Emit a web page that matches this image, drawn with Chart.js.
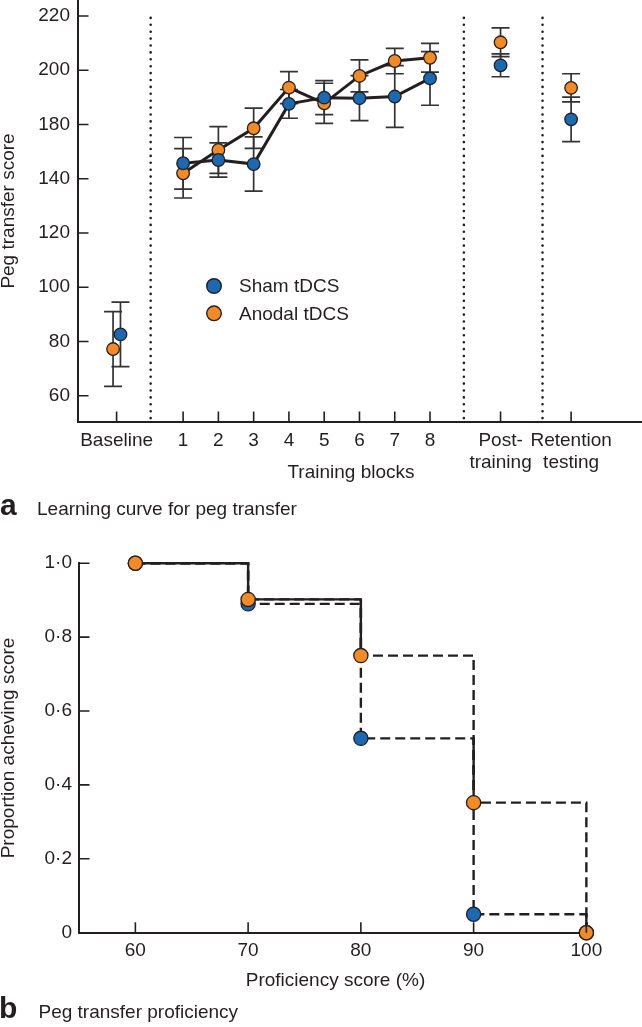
<!DOCTYPE html>
<html>
<head>
<meta charset="utf-8">
<script src="https://cdn.jsdelivr.net/npm/chart.js@4.4.0/dist/chart.umd.min.js"></script>
<style>
  html, body { margin:0; padding:0; background:#fff; width:642px; height:1027px; overflow:hidden;
    font-family:'Liberation Sans', Arial, sans-serif; color:#231f20; }
  #c1 { position:absolute; left:0; top:0; }
  #c2 { position:absolute; left:0; top:530px; }
  .lab { position:absolute; white-space:nowrap; }
  .big { font-size:30px; line-height:30px; font-weight:bold; }
  .small { font-size:19px; line-height:19px; }
</style>
</head>
<body>
<canvas id="c1" width="642" height="490"></canvas>
<canvas id="c2" width="642" height="470"></canvas>
<div class="lab big" style="left:0px; top:489.6px;">a</div>
<div class="lab small" style="left:37px; top:498.9px;">Learning curve for peg transfer</div>
<div class="lab big" style="left:-1px; top:992.6px;">b</div>
<div class="lab small" style="left:38.5px; top:1001.9px;">Peg transfer proficiency</div>
<script>
// ---------- Panel a data ----------
const categories = ['Baseline', '1', '2', '3', '4', '5', '6', '7', '8', ['Post-', 'training'], ['Retention', 'testing']];
const categoryX = [-0.886, 1, 2, 3, 4, 5, 6, 7, 8, 10, 12];
const blockIdx = [1, 2, 3, 4, 5, 6, 7, 8];
const yTickValues = [60, 80, 100, 120, 140, 160, 180, 200];
const yTickLabels = ['60', '80', '100', '120', '140', '180', '200', '220'];
const shamMean   = [82.6, 145.7, 146.9, 145.4, 167.6, 169.9, 169.7, 170.3, 177.0, 181.8, 161.9];
const shamErr    = [11.9, 9.5, 6.3, 10.0, 5.3, 6.3, 8.3, 11.4, 9.9, 4.2, 8.2];
const anodalMean = [77.2, 142.0, 150.6, 158.6, 173.6, 167.8, 177.9, 183.4, 184.6, 190.3, 173.5];
const anodalErr  = [13.8, 9.1, 8.6, 7.4, 5.9, 7.4, 5.9, 4.7, 5.3, 5.3, 5.2];
const dividerX = [0.08, 8.96, 11.19];
const seriesNames = ['Sham tDCS', 'Anodal tDCS'];

// ---------- Panel b data ----------
const profScores = [60, 70, 80, 90, 100];
const shamProp   = [1.0, 0.89, 0.526, 0.05, 0];
const anodalProp = [1.0, 0.902, 0.75, 0.352, 0];
const propTickValues = [0, 0.2, 0.4, 0.6, 0.8, 1.0];
const propTickLabels = ['0', '0·2', '0·4', '0·6', '0·8', '1·0'];

// ---------- styles ----------
const INK = '#231f20';
const BLUE = '#1b69b0';
const ORANGE = '#f28a26';
const FONT = "'Liberation Sans', Arial, sans-serif";
Chart.defaults.font.family = FONT;
Chart.defaults.font.size = 19;
Chart.defaults.color = INK;
Chart.defaults.animation = false;
Chart.defaults.events = [];
Chart.defaults.plugins.legend.display = false;
Chart.defaults.plugins.tooltip.enabled = false;

const baselineJitter = { sham: 0.11, anodal: -0.1 };
function xAt(i, who) { return categoryX[i] + (i === 0 ? baselineJitter[who] : 0); }

function noPad(s) { s.paddingTop = 0; s.paddingBottom = 0; s.paddingLeft = 0; s.paddingRight = 0; }

// inward tick marks
function inwardTicks(len) {
  return {
    id: 'inwardTicks',
    afterDatasetsDraw(chart) {
      const ctx = chart.ctx, xs = chart.scales.x, ys = chart.scales.y, ca = chart.chartArea;
      ctx.save();
      ctx.strokeStyle = INK; ctx.lineWidth = 1.6;
      ctx.beginPath();
      xs.ticks.forEach(t => { const p = xs.getPixelForValue(t.value); ctx.moveTo(p, ca.bottom); ctx.lineTo(p, ca.bottom - len); });
      ys.ticks.forEach(t => { const p = ys.getPixelForValue(t.value); ctx.moveTo(ca.left, p); ctx.lineTo(ca.left + len, p); });
      ctx.stroke();
      ctx.restore();
    }
  };
}

const panelAExtras = {
  id: 'panelAExtras',
  beforeDatasetsDraw(chart) {
    const ctx = chart.ctx, xs = chart.scales.x, ys = chart.scales.y, ca = chart.chartArea;
    ctx.save();
    // dotted dividers
    ctx.strokeStyle = INK; ctx.lineWidth = 2.6; ctx.lineCap = 'round';
    ctx.setLineDash([0, 6.9]);
    dividerX.forEach(v => {
      const p = xs.getPixelForValue(v);
      ctx.beginPath(); ctx.moveTo(p, ys.getPixelForValue(199.3)); ctx.lineTo(p, ca.bottom); ctx.stroke();
    });
    ctx.setLineDash([]); ctx.lineCap = 'butt';
    // error bars
    ctx.strokeStyle = '#333'; ctx.lineWidth = 1.7;
    const draw = (mean, err, who) => {
      mean.forEach((m, i) => {
        const px = xs.getPixelForValue(xAt(i, who));
        const top = ys.getPixelForValue(m + err[i]), bot = ys.getPixelForValue(m - err[i]);
        ctx.beginPath();
        ctx.moveTo(px, top); ctx.lineTo(px, bot);
        ctx.moveTo(px - 9, top); ctx.lineTo(px + 9, top);
        ctx.moveTo(px - 9, bot); ctx.lineTo(px + 9, bot);
        ctx.stroke();
      });
    };
    draw(anodalMean, anodalErr, 'anodal');
    draw(shamMean, shamErr, 'sham');
    ctx.restore();
  },
  afterDraw(chart) {
    const ctx = chart.ctx, ca = chart.chartArea;
    ctx.save();
    // legend
    const items = [[seriesNames[0], BLUE], [seriesNames[1], ORANGE]];
    items.forEach(([txt, col], k) => {
      const cx = ca.left + 136, cy = ca.top + 286 + k * 27.3;
      ctx.beginPath(); ctx.arc(cx, cy, 7.3, 0, Math.PI * 2);
      ctx.fillStyle = col; ctx.fill();
      ctx.lineWidth = 1.4; ctx.strokeStyle = INK; ctx.stroke();
      ctx.fillStyle = INK; ctx.font = '19px ' + FONT;
      ctx.textAlign = 'left'; ctx.textBaseline = 'middle';
      ctx.fillText(txt, ca.left + 161, cy + 1);
    });
    // x axis title
    ctx.textAlign = 'center'; ctx.textBaseline = 'alphabetic';
    ctx.fillText('Training blocks', (ca.left + ca.right) / 2 - 9, 478);
    ctx.restore();
  }
};

new Chart(document.getElementById('c1'), {
  type: 'scatter',
  data: {
    datasets: [
      { label: seriesNames[1] + ' line', data: blockIdx.map(i => ({ x: categoryX[i], y: anodalMean[i] })),
        showLine: true, pointRadius: 0, borderColor: INK, borderWidth: 3, order: 4 },
      { label: seriesNames[0] + ' line', data: blockIdx.map(i => ({ x: categoryX[i], y: shamMean[i] })),
        showLine: true, pointRadius: 0, borderColor: INK, borderWidth: 3, order: 3 },
      { label: seriesNames[1], data: anodalMean.map((m, i) => ({ x: xAt(i, 'anodal'), y: m })),
        showLine: false, pointRadius: 6.3, backgroundColor: ORANGE, borderColor: INK, borderWidth: 1.3, order: 2 },
      { label: seriesNames[0], data: shamMean.map((m, i) => ({ x: xAt(i, 'sham'), y: m })),
        showLine: false, pointRadius: 6.3, backgroundColor: BLUE, borderColor: INK, borderWidth: 1.3, order: 1 }
    ]
  },
  options: {
    responsive: false, maintainAspectRatio: false,
    layout: { padding: 0, autoPadding: false },
    scales: {
      x: {
        type: 'linear', min: -1.98, max: 14.01,
        afterBuildTicks: s => { s.ticks = categoryX.map(v => ({ value: v })); },
        afterFit: s => { s.height = 68; noPad(s); },
        ticks: { padding: 7, autoSkip: false, maxRotation: 0, callback: (v, i) => categories[i] },
        grid: { display: false, drawTicks: false },
        border: { display: true, color: INK, width: 2 }
      },
      y: {
        type: 'linear', min: 50.3, max: 205.9,
        afterBuildTicks: s => { s.ticks = yTickValues.map(v => ({ value: v })); },
        afterFit: s => { s.width = 78; noPad(s); },
        ticks: { padding: 8, callback: (v, i) => yTickLabels[i] },
        grid: { display: false, drawTicks: false },
        border: { display: true, color: INK, width: 2 },
        title: { display: true, text: 'Peg transfer score', padding: { top: -3, bottom: 0 } }
      }
    }
  },
  plugins: [panelAExtras, inwardTicks(10.5)]
});

// ---------- Panel b ----------
// solid segments where both step curves coincide
function overlapSegments() {
  const tol = 0.02, pts = [];
  for (let i = 0; i < profScores.length; i++) {
    if (i > 0) {
      const aHi = Math.max(anodalProp[i], anodalProp[i - 1]), aLo = Math.min(anodalProp[i], anodalProp[i - 1]);
      const sHi = Math.max(shamProp[i], shamProp[i - 1]), sLo = Math.min(shamProp[i], shamProp[i - 1]);
      const hi = Math.abs(aHi - sHi) < tol ? Math.max(aHi, sHi) : Math.min(aHi, sHi);
      const lo = Math.max(aLo, sLo);
      if (hi > lo) pts.push({ x: profScores[i], y: hi }, { x: profScores[i], y: lo }, { x: profScores[i], y: null });
    }
    if (i < profScores.length - 1 && Math.abs(anodalProp[i] - shamProp[i]) < tol) {
      const y = Math.max(anodalProp[i], shamProp[i]);
      pts.push({ x: profScores[i], y }, { x: profScores[i + 1], y }, { x: profScores[i + 1], y: null });
    }
  }
  return pts;
}

new Chart(document.getElementById('c2'), {
  type: 'scatter',
  data: {
    datasets: [
      { label: 'both', data: overlapSegments(), showLine: true, spanGaps: false, pointRadius: 0,
        borderColor: INK, borderWidth: 2.4, order: 3, clip: false },
      { label: seriesNames[0], data: profScores.map((x, i) => ({ x, y: shamProp[i] })),
        showLine: true, stepped: 'before', borderDash: [10, 5], borderColor: INK, borderWidth: 2.4,
        pointRadius: 7.1, backgroundColor: BLUE, pointBorderColor: INK, pointBorderWidth: 1.3, order: 2, clip: false },
      { label: seriesNames[1], data: profScores.map((x, i) => ({ x, y: anodalProp[i] })),
        showLine: true, stepped: 'before', borderDash: [10, 5], borderColor: INK, borderWidth: 2.4,
        pointRadius: 7.1, backgroundColor: ORANGE, pointBorderColor: INK, pointBorderWidth: 1.3, order: 1, clip: false }
    ]
  },
  options: {
    responsive: false, maintainAspectRatio: false,
    layout: { padding: { top: 33.2, right: 50, left: 0, bottom: 0 }, autoPadding: false },
    scales: {
      x: {
        type: 'linear', min: 55, max: 100.5,
        afterBuildTicks: s => { s.ticks = profScores.map(v => ({ value: v })); },
        afterFit: s => { s.height = 67.3; noPad(s); },
        ticks: { padding: 7, autoSkip: false, maxRotation: 0, callback: v => String(v) },
        grid: { display: false, drawTicks: false },
        border: { display: true, color: INK, width: 2 },
        title: { display: true, text: 'Proficiency score (%)', padding: { top: 0, bottom: 8 } }
      },
      y: {
        type: 'linear', min: 0, max: 1,
        afterBuildTicks: s => { s.ticks = propTickValues.map(v => ({ value: v })); },
        afterFit: s => { s.width = 79; noPad(s); },
        ticks: { padding: 7, callback: (v, i) => propTickLabels[i] },
        grid: { display: false, drawTicks: false },
        border: { display: true, color: INK, width: 2 },
        title: { display: true, text: 'Proportion acheving score', padding: { top: -3, bottom: 0 } }
      }
    }
  },
  plugins: [inwardTicks(10.5)]
});
</script>
</body>
</html>
